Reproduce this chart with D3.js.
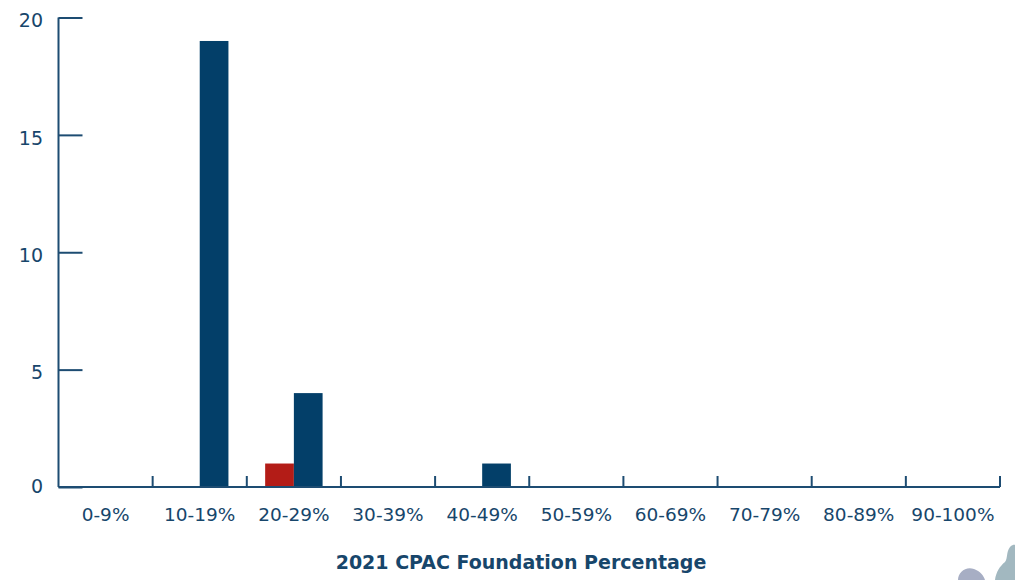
<html>

<head>
    <script src="https://d3js.org/d3.v7.min.js"></script>
    <style>
        body { margin: 0; background: #fff; }
        text { font-family: "DejaVu Sans", sans-serif; fill: #17466b; }
    </style>
</head>

<body>
    <div id="chart">
        <svg width="1015" height="580"></svg>
    </div>
    <script>
        // data
        var categories = ['0-9%', '10-19%', '20-29%', '30-39%', '40-49%', '50-59%', '60-69%', '70-79%', '80-89%', '90-100%']
        var seriesNames = ['red', 'blue']
        var redValues = [0, 0, 1, 0, 0, 0, 0, 0, 0, 0]
        var blueValues = [0, 19, 4, 0, 1, 0, 0, 0, 0, 0]
        var yTicks = [0, 5, 10, 15, 20]
        var xTitle = '2021 CPAC Foundation Percentage'

        var colors = { red: '#b31c17', blue: '#033f69' }
        var axisColor = '#1d4c72'

        var svg = d3.select('#chart svg')
        var mLeft = 58.5, mRight = 1000, mTop = 17.5, mBottom = 487

        var x = d3.scaleBand()
            .domain(categories)
            .range([mLeft, mRight])
            .padding(0)
        var x1 = d3.scaleBand()
            .domain(seriesNames)
            .range([x.bandwidth() * 0.195, x.bandwidth() * 0.805])
        var y = d3.scaleLinear()
            .domain([0, 20])
            .range([mBottom, mTop])

        var rows = categories.map(function(c, i) {
            return { cat: c, red: redValues[i], blue: blueValues[i] }
        })

        // bars
        var groups = svg.selectAll('g.grp')
            .data(rows)
            .enter()
            .append('g')
            .classed('grp', true)
            .attr('transform', function(d) { return 'translate(' + x(d.cat) + ',0)' })
        groups.selectAll('rect')
            .data(function(d) {
                return seriesNames.map(function(s) { return { key: s, value: d[s] } })
            })
            .enter()
            .filter(function(d) { return d.value > 0 })
            .append('rect')
            .attr('x', function(d) { return x1(d.key) })
            .attr('width', x1.bandwidth())
            .attr('y', function(d) { return y(d.value) })
            .attr('height', function(d) { return y(0) - y(d.value) })
            .style('fill', function(d) { return colors[d.key] })

        // y axis, ticks point inward
        var yAxis = d3.axisRight(y)
            .tickValues(yTicks)
            .tickSize(24)
            .tickFormat('')
        var yg = svg.append('g')
            .attr('transform', 'translate(' + mLeft + ',0)')
            .call(yAxis)
        yg.select('.domain').attr('d', 'M0,' + mTop + 'V' + mBottom)
        yg.selectAll('line, path').attr('stroke', axisColor).attr('stroke-width', 2)
        svg.selectAll('text.ylab')
            .data(yTicks)
            .enter()
            .append('text')
            .classed('ylab', true)
            .attr('x', 43)
            .attr('y', function(d) { return y(d) + (d === 0 ? -1 : 3) })
            .attr('dy', '0.35em')
            .attr('text-anchor', 'end')
            .style('font-size', '19px')
            .text(function(d) { return d })

        // x axis, ticks at category boundaries pointing up
        var bounds = categories.map(function(c) { return x(c) }).concat([mRight])
        var xg = svg.append('g')
        xg.append('line')
            .attr('x1', mLeft).attr('x2', mRight)
            .attr('y1', mBottom).attr('y2', mBottom)
            .attr('stroke', axisColor).attr('stroke-width', 2)
        xg.selectAll('line.tick')
            .data(bounds.slice(1))
            .enter()
            .append('line')
            .classed('tick', true)
            .attr('x1', function(d) { return d }).attr('x2', function(d) { return d })
            .attr('y1', mBottom).attr('y2', mBottom - 11)
            .attr('stroke', axisColor).attr('stroke-width', 2)
        xg.selectAll('text.xlab')
            .data(categories)
            .enter()
            .append('text')
            .classed('xlab', true)
            .attr('x', function(d) { return x(d) + x.bandwidth() / 2 })
            .attr('y', 515)
            .attr('dy', '0.35em')
            .attr('text-anchor', 'middle')
            .style('font-size', '18.5px')
            .text(function(d) { return d })

        svg.append('text')
            .attr('x', 521)
            .attr('y', 562)
            .attr('dy', '0.35em')
            .attr('text-anchor', 'middle')
            .style('font-size', '19px')
            .style('font-weight', 'bold')
            .text(xTitle)

        // decorative blobs in the corner
        svg.append('path')
            .attr('d', 'M958,580 C958,572 966,566 974,569 C980,571 984,576 985,580 Z')
            .style('fill', '#a7aec4')
        svg.append('path')
            .attr('d', 'M995,580 C996,572 1000,566 1005,562 C1008,558 1006,552 1010,547 C1013,544 1015,545 1015,545 L1015,580 Z')
            .style('fill', '#a2b8c0')
    </script>
</body>

</html>
